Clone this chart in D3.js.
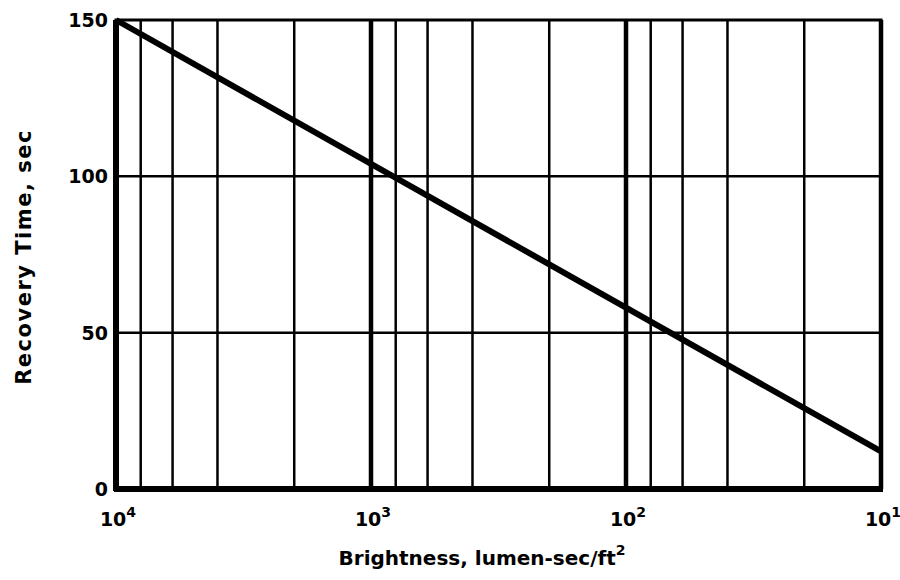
<!DOCTYPE html>
<html><head><meta charset="utf-8">
<script src="https://cdn.jsdelivr.net/npm/d3@7"></script>
<style>body{margin:0;background:#fff;} svg{display:block;}</style>
</head><body>
<svg id="c" width="900" height="580"></svg>
<script>
// Data
const xDomain = [10000, 10];
const yDomain = [0, 150];
const yTicks = [0, 50, 100, 150];
const xDecades = [10000, 1000, 100, 10];
const xDecadeExp = ["4", "3", "2", "1"];
const xMinorGrid = [8000, 6000, 4000, 2000, 800, 600, 400, 200, 80, 60, 40, 20];
const lineX = [10000, 10];
const lineY = [150, 12];
const xTitle = "Brightness, lumen-sec/ft";
const yTitle = "Recovery Time, sec";

const svg = d3.select("#c");
const L = 116, R = 881, T = 20, B = 489;
const x = d3.scaleLog().domain(xDomain).range([L, R]);
const y = d3.scaleLinear().domain(yDomain).range([B, T]);
const font = "'DejaVu Sans', sans-serif";

const g = svg.append("g");
// minor vertical grid
g.selectAll(".vg").data(xMinorGrid).enter().append("line")
  .attr("x1", d => x(d)).attr("x2", d => x(d)).attr("y1", T).attr("y2", B)
  .attr("stroke", "#000").attr("stroke-width", 2.5);
// decade lines
g.selectAll(".vd").data(xDecades.slice(1, 3)).enter().append("line")
  .attr("x1", d => x(d)).attr("x2", d => x(d)).attr("y1", T).attr("y2", B)
  .attr("stroke", "#000").attr("stroke-width", 4.5);
// horizontal grid
g.selectAll(".hg").data(yTicks.slice(1, 3)).enter().append("line")
  .attr("x1", L).attr("x2", R).attr("y1", d => y(d)).attr("y2", d => y(d))
  .attr("stroke", "#000").attr("stroke-width", 2.5);
// border
g.append("rect").attr("x", L).attr("y", T).attr("width", R - L).attr("height", B - T)
  .attr("fill", "none").attr("stroke", "#000").attr("stroke-width", 3);
g.append("line").attr("x1", L).attr("x2", L).attr("y1", T).attr("y2", B + 2)
  .attr("stroke", "#000").attr("stroke-width", 6);
g.append("line").attr("x1", L - 2).attr("x2", R + 2).attr("y1", B).attr("y2", B)
  .attr("stroke", "#000").attr("stroke-width", 6);
g.append("line").attr("x1", R).attr("x2", R).attr("y1", T).attr("y2", B)
  .attr("stroke", "#000").attr("stroke-width", 4.5);

// data line
const pts = lineX.map((v, i) => [v, lineY[i]]);
g.append("path").datum(pts)
  .attr("d", d3.line().x(d => x(d[0])).y(d => y(d[1])))
  .attr("fill", "none").attr("stroke", "#000").attr("stroke-width", 6);

// y tick labels
svg.selectAll(".yt").data(yTicks).enter().append("text")
  .attr("x", L - 8).attr("y", d => y(d) + 7)
  .attr("text-anchor", "end").attr("font-family", font).attr("font-size", 19)
  .attr("font-weight", "bold").text(d => d);

// x tick labels
const xt = svg.selectAll(".xt").data(xDecades).enter().append("text")
  .attr("x", d => x(d) + 2).attr("y", 526)
  .attr("text-anchor", "middle").attr("font-family", font).attr("font-size", 19)
  .attr("font-weight", "bold");
xt.append("tspan").text("10");
xt.append("tspan").attr("dy", -9).attr("font-size", 14).text((d, i) => xDecadeExp[i]);

// axis titles
const xtT = svg.append("text").attr("x", 482).attr("y", 565).attr("text-anchor", "middle")
  .attr("font-family", font).attr("font-size", 20).attr("font-weight", "bold");
xtT.append("tspan").text(xTitle);
xtT.append("tspan").attr("dy", -10).attr("font-size", 14).text("2");

svg.append("text").attr("transform", "translate(31,257) rotate(-90)")
  .attr("text-anchor", "middle").attr("font-family", font).attr("font-size", 21)
  .attr("letter-spacing", 1.5)
  .attr("font-weight", "bold").text(yTitle);
</script>
</body></html>
